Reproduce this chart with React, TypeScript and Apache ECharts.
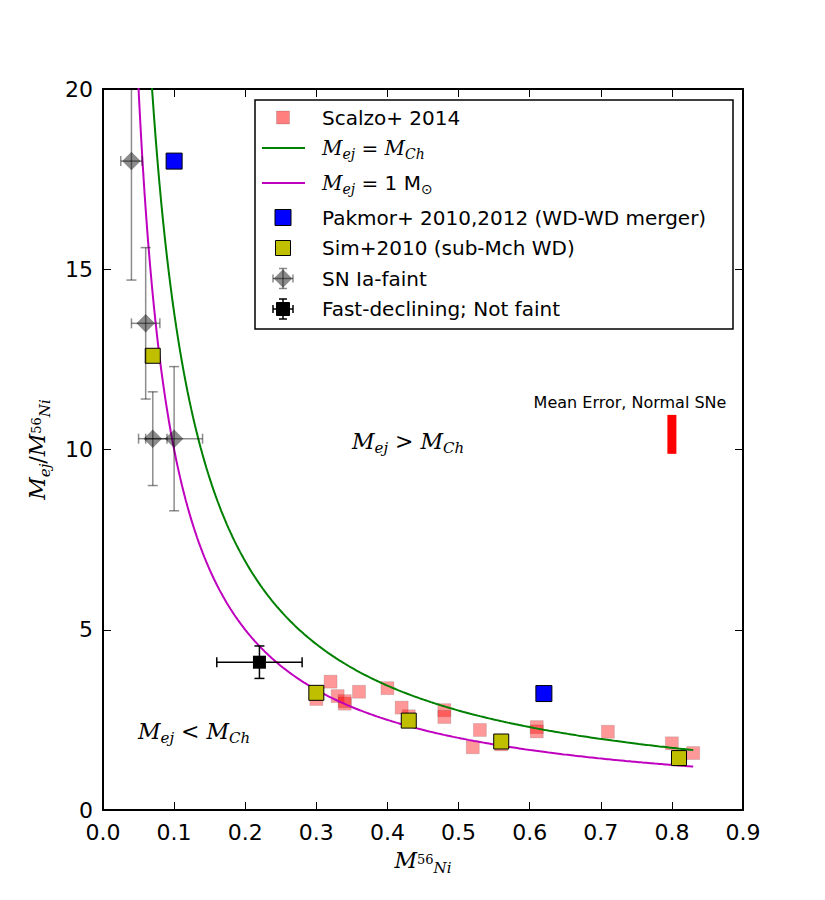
import React, { useEffect, useRef } from "react";
import * as echarts from "echarts";

// Scalzo+ 2014 sample
const scalzoX = [0.30, 0.32, 0.33, 0.34, 0.34, 0.36, 0.40, 0.42, 0.43, 0.48, 0.48, 0.52, 0.53, 0.56, 0.61, 0.61, 0.71, 0.80, 0.83];
const scalzoY = [3.08, 3.56, 3.16, 2.95, 3.02, 3.28, 3.38, 2.84, 2.60, 2.77, 2.58, 1.74, 2.22, 1.82, 2.30, 2.18, 2.17, 1.85, 1.58];

// Pakmor+ 2010,2012 (WD-WD merger)
const pakmorX = [0.10, 0.62];
const pakmorY = [18.0, 3.23];

// Sim+2010 (sub-Mch WD)
const simX = [0.07, 0.30, 0.43, 0.56, 0.81];
const simY = [12.6, 3.25, 2.48, 1.90, 1.44];

// SN Ia-faint, with x / y errors
const faintX = [0.04, 0.06, 0.07, 0.10];
const faintY = [18.0, 13.5, 10.3, 10.3];
const faintXErr = [0.015, 0.02, 0.02, 0.04];
const faintYErr = [3.3, 2.1, 1.3, 2.0];

// Fast-declining; not faint
const fastX = [0.22];
const fastY = [4.1];
const fastXErr = [0.06];
const fastYErr = [0.45];

// Mean error bar for normal SNe
const meanErrX = [0.8, 0.8];
const meanErrY = [9.88, 10.96];

// Ejected-mass models: M_ej = M_Ch and M_ej = 1 Msun, with M_ej / M_Ni = M / M_Ni
const modelMasses = [1.38, 1.0];
const modelXStart = 0.04;
const modelXEnd = 0.83;

// Axis ticks
const xTicks = [0, 0.1, 0.2, 0.3, 0.4, 0.5, 0.6, 0.7, 0.8, 0.9];
const yTicks = [0, 5, 10, 15, 20];

const SANS = "DejaVu Sans";
const SERIF = "DejaVu Serif";

function modelCurve(mass: number): number[][] {
  const pts: number[][] = [];
  const n = 300;
  for (let i = 0; i <= n; i++) {
    const x = modelXStart + ((modelXEnd - modelXStart) * i) / n;
    pts.push([x, mass / x]);
  }
  return pts;
}

function mathRich(size: number) {
  const lh = Math.round(size * 1.4);
  const ss = Math.round(size * 0.68);
  const sp = Math.round(size * 0.6);
  return {
    m: { fontFamily: SERIF, fontStyle: "italic", fontSize: size, lineHeight: lh, verticalAlign: "middle", color: "#000" },
    sub: { fontFamily: SERIF, fontStyle: "italic", fontSize: ss, lineHeight: ss, verticalAlign: "bottom", padding: [0, 0, 1, 0], color: "#000" },
    subr: { fontFamily: SANS, fontSize: ss, lineHeight: ss, verticalAlign: "bottom", padding: [0, 0, 1, 0], color: "#000" },
    sup: { fontFamily: SERIF, fontSize: sp, lineHeight: sp, verticalAlign: "middle", padding: [0, 0, 3, 0], color: "#000" },
    op: { fontFamily: SERIF, fontSize: size, lineHeight: lh, verticalAlign: "middle", color: "#000" },
    sans: { fontFamily: SANS, fontSize: size, lineHeight: lh, verticalAlign: "middle", color: "#000" },
  };
}

function errorBarSeries(xs: number[], ys: number[], xe: number[], ye: number[], color: string, z: number) {
  return {
    type: "custom",
    clip: true,
    z,
    silent: true,
    data: xs.map((x, i) => [x, ys[i], xe[i], ye[i]]),
    renderItem: (_params: any, api: any) => {
      const x = api.value(0);
      const y = api.value(1);
      const ex = api.value(2);
      const ey = api.value(3);
      const l = api.coord([x - ex, y]);
      const r = api.coord([x + ex, y]);
      const t = api.coord([x, y + ey]);
      const b = api.coord([x, y - ey]);
      const cap = 5;
      const style = { stroke: color, lineWidth: 1.5 };
      const mk = (x1: number, y1: number, x2: number, y2: number) => ({
        type: "line",
        shape: { x1, y1, x2, y2 },
        style,
      });
      return {
        type: "group",
        children: [
          mk(l[0], l[1], r[0], r[1]),
          mk(l[0], l[1] - cap, l[0], l[1] + cap),
          mk(r[0], r[1] - cap, r[0], r[1] + cap),
          mk(t[0], t[1], b[0], b[1]),
          mk(t[0] - cap, t[1], t[0] + cap, t[1]),
          mk(b[0] - cap, b[1], b[0] + cap, b[1]),
        ],
      };
    },
  };
}

function legendGraphics() {
  const lx = 283;
  const tx = 322;
  const rows = [117.5, 148, 183, 217.5, 248, 278.5, 309];
  const els: any[] = [];
  const textStyle = (text: string, y: number) => ({
    type: "text",
    x: tx,
    y,
    z: 101,
    style: { text, fontFamily: SANS, fontSize: 20, fill: "#000", verticalAlign: "middle", align: "left" },
  });
  const mathText = (text: string, y: number) => ({
    type: "text",
    x: tx,
    y,
    z: 101,
    style: { text, rich: mathRich(20), verticalAlign: "middle", align: "left" },
  });
  const sq = (y: number, s: number, fill: string, stroke: string, lw: number) => ({
    type: "rect",
    z: 101,
    shape: { x: lx - s / 2, y: y - s / 2, width: s, height: s },
    style: { fill, stroke, lineWidth: lw },
  });
  const ln = (x1: number, y1: number, x2: number, y2: number, stroke: string, lw: number) => ({
    type: "line",
    z: 101,
    shape: { x1, y1, x2, y2 },
    style: { stroke, lineWidth: lw },
  });
  const errCross = (y: number, stroke: string) => [
    ln(lx - 10, y, lx + 10, y, stroke, 1.5),
    ln(lx - 10, y - 4, lx - 10, y + 4, stroke, 1.5),
    ln(lx + 10, y - 4, lx + 10, y + 4, stroke, 1.5),
    ln(lx, y - 10, lx, y + 10, stroke, 1.5),
    ln(lx - 4, y - 10, lx + 4, y - 10, stroke, 1.5),
    ln(lx - 4, y + 10, lx + 4, y + 10, stroke, 1.5),
  ];

  els.push({
    type: "rect",
    z: 100,
    shape: { x: 255, y: 100, width: 478, height: 229 },
    style: { fill: "#fff", stroke: "#000", lineWidth: 1.5 },
  });
  els.push(sq(rows[0], 13, "rgba(255,0,0,0.5)", "rgba(0,0,0,0.3)", 0.5));
  els.push(textStyle("Scalzo+ 2014", rows[0]));
  els.push(ln(262, rows[1], 305, rows[1], "#008000", 2));
  els.push(mathText("{m|M}{sub|ej}{sans| = }{m|M}{sub|Ch}", rows[1]));
  els.push(ln(262, rows[2], 305, rows[2], "#bf00bf", 2));
  els.push(mathText("{m|M}{sub|ej}{sans| = 1 M}{subr|⊙}", rows[2]));
  els.push(sq(rows[3], 16, "#0000ff", "#000", 1));
  els.push(textStyle("Pakmor+ 2010,2012 (WD-WD merger)", rows[3]));
  els.push(sq(rows[4], 15, "#bfbf00", "#000", 1));
  els.push(textStyle("Sim+2010 (sub-Mch WD)", rows[4]));
  els.push(...errCross(rows[5], "rgba(0,0,0,0.45)"));
  els.push({
    type: "polygon",
    z: 101,
    shape: { points: [[lx, rows[5] - 9], [lx + 9, rows[5]], [lx, rows[5] + 9], [lx - 9, rows[5]]] },
    style: { fill: "rgba(0,0,0,0.45)", stroke: "rgba(0,0,0,0.3)", lineWidth: 0.5 },
  });
  els.push(textStyle("SN Ia-faint", rows[5]));
  els.push(...errCross(rows[6], "#000"));
  els.push(sq(rows[6], 13, "#000", "#000", 1));
  els.push(textStyle("Fast-declining; Not faint", rows[6]));
  return els;
}

export default function App() {
  const ref = useRef<HTMLDivElement>(null);

  useEffect(() => {
    document.body.style.margin = "0";
    if (!ref.current) return;
    const chart = echarts.init(ref.current, undefined, { renderer: "svg" });

    const axisLineStyle = { color: "#000", width: 2 };
    const tickStyle = { color: "#000", width: 1 };

    const option: any = {
      animation: false,
      backgroundColor: "#fff",
      grid: { left: 103, right: 82, top: 89, bottom: 90, containLabel: false },
      xAxis: [
        {
          type: "value",
          position: "bottom",
          min: xTicks[0],
          max: xTicks[xTicks.length - 1],
          interval: 0.1,
          axisLine: { show: true, onZero: false, lineStyle: axisLineStyle },
          axisTick: { show: true, inside: true, length: 8, lineStyle: tickStyle },
          axisLabel: {
            color: "#000",
            fontFamily: SANS,
            fontSize: 22,
            lineHeight: 16,
            margin: 14,
            formatter: (v: number) => v.toFixed(1),
          },
          splitLine: { show: false },
          name: "{m|M}{sup|56}{sub|Ni}",
          nameLocation: "middle",
          nameGap: 35,
          nameTextStyle: { rich: mathRich(22) },
        },
        {
          type: "value",
          position: "top",
          min: xTicks[0],
          max: xTicks[xTicks.length - 1],
          interval: 0.1,
          axisLine: { show: true, onZero: false, lineStyle: axisLineStyle },
          axisTick: { show: true, inside: true, length: 8, lineStyle: tickStyle },
          axisLabel: { show: false },
          splitLine: { show: false },
        },
      ],
      yAxis: [
        {
          type: "value",
          position: "left",
          min: yTicks[0],
          max: yTicks[yTicks.length - 1],
          interval: 5,
          axisLine: { show: true, onZero: false, lineStyle: axisLineStyle },
          axisTick: { show: true, inside: true, length: 8, lineStyle: tickStyle },
          axisLabel: { color: "#000", fontFamily: SANS, fontSize: 22, lineHeight: 16, margin: 10 },
          splitLine: { show: false },
          name: "{m|M}{sub|ej}{op|/}{m|M}{sup|56}{sub|Ni}",
          nameLocation: "middle",
          nameRotate: 90,
          nameGap: 50,
          nameTextStyle: { rich: mathRich(22) },
        },
        {
          type: "value",
          position: "right",
          min: yTicks[0],
          max: yTicks[yTicks.length - 1],
          interval: 5,
          axisLine: { show: true, onZero: false, lineStyle: axisLineStyle },
          axisTick: { show: true, inside: true, length: 8, lineStyle: tickStyle },
          axisLabel: { show: false },
          splitLine: { show: false },
        },
      ],
      series: [
        {
          name: "Scalzo+ 2014",
          type: "scatter",
          z: 2,
          symbol: "rect",
          symbolSize: 13,
          itemStyle: { color: "rgba(255,0,0,0.5)", borderColor: "rgba(0,0,0,0.3)", borderWidth: 0.5 },
          data: scalzoX.map((x, i) => [x, scalzoY[i]]),
        },
        {
          name: "M_ej = M_Ch",
          type: "line",
          z: 3,
          showSymbol: false,
          symbol: "none",
          clip: true,
          lineStyle: { color: "#008000", width: 2 },
          data: modelCurve(modelMasses[0]),
        },
        {
          name: "M_ej = 1 Msun",
          type: "line",
          z: 3,
          showSymbol: false,
          symbol: "none",
          clip: true,
          lineStyle: { color: "#bf00bf", width: 2 },
          data: modelCurve(modelMasses[1]),
        },
        {
          name: "Pakmor+ 2010,2012 (WD-WD merger)",
          type: "scatter",
          z: 4,
          symbol: "rect",
          symbolSize: 16,
          itemStyle: { color: "#0000ff", borderColor: "#000", borderWidth: 1, opacity: 1 },
          data: pakmorX.map((x, i) => [x, pakmorY[i]]),
        },
        {
          name: "Sim+2010 (sub-Mch WD)",
          type: "scatter",
          z: 4,
          symbol: "rect",
          symbolSize: 15,
          itemStyle: { color: "#bfbf00", borderColor: "#000", borderWidth: 1, opacity: 1 },
          data: simX.map((x, i) => [x, simY[i]]),
        },
        errorBarSeries(faintX, faintY, faintXErr, faintYErr, "rgba(0,0,0,0.45)", 5),
        {
          name: "SN Ia-faint",
          type: "scatter",
          z: 6,
          symbol: "diamond",
          symbolSize: 18,
          itemStyle: { color: "rgba(0,0,0,0.45)", borderColor: "rgba(0,0,0,0.3)", borderWidth: 0.5, opacity: 1 },
          data: faintX.map((x, i) => [x, faintY[i]]),
        },
        errorBarSeries(fastX, fastY, fastXErr, fastYErr, "#000", 5),
        {
          name: "Fast-declining; Not faint",
          type: "scatter",
          z: 6,
          symbol: "rect",
          symbolSize: 13,
          itemStyle: { color: "#000", opacity: 1 },
          data: fastX.map((x, i) => [x, fastY[i]]),
        },
        {
          name: "Mean Error, Normal SNe",
          type: "line",
          z: 4,
          symbol: "none",
          lineStyle: { color: "#ff0000", width: 9, cap: "butt" },
          data: meanErrX.map((x, i) => [x, meanErrY[i]]),
        },
      ],
      graphic: [
        {
          type: "text",
          x: 630,
          y: 402,
          z: 50,
          style: {
            text: "Mean Error, Normal SNe",
            fontFamily: SANS,
            fontSize: 16,
            fill: "#000",
            align: "center",
            verticalAlign: "middle",
          },
        },
        {
          type: "text",
          x: 352,
          y: 441,
          z: 50,
          style: {
            text: "{m|M}{sub|ej}{op| > }{m|M}{sub|Ch}",
            rich: mathRich(22),
            align: "left",
            verticalAlign: "middle",
          },
        },
        {
          type: "text",
          x: 138,
          y: 731,
          z: 50,
          style: {
            text: "{m|M}{sub|ej}{op| < }{m|M}{sub|Ch}",
            rich: mathRich(22),
            align: "left",
            verticalAlign: "middle",
          },
        },
        ...legendGraphics(),
      ],
    };

    chart.setOption(option);
    return () => chart.dispose();
  }, []);

  return <div ref={ref} style={{ width: 825, height: 900 }} />;
}
